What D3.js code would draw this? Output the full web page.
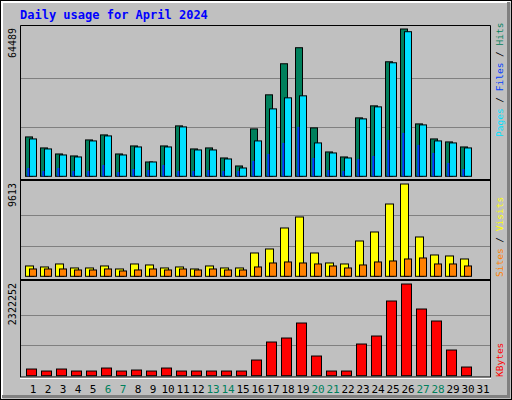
<!DOCTYPE html>
<html><head><meta charset="utf-8">
<script src="https://cdn.jsdelivr.net/npm/d3@7"></script>
<style>body{margin:0;background:#fff}</style></head>
<body><svg id="c" width="512" height="400"></svg>
<script>
const days = d3.range(1,32);
const weekend = [6,7,13,14,20,21,27,28];
const hits  = [17240,12420,9780,8910,15920,18120,9780,13290,6270,13290,22070,11980,12420,8030,4520,20750,35670,49270,56290,21190,10660,8470,25580,30840,50140,64489,22940,16360,15050,12850];
const files = [16360,11980,9340,8470,15490,17680,9340,12850,6270,12850,21630,11540,11540,7590,3640,15490,29520,34350,35230,14610,10220,8030,25140,30400,49700,63300,22500,15490,14610,12420];
const pages = [3640,2330,3640,2330,2330,4960,1890,3200,2760,4960,2330,2330,2760,2330,2330,6710,9780,14610,21630,8030,2760,2330,7590,8910,15920,18990,13730,10220,5830,3200];
const visits= [1076,972,1284,868,868,1076,763,1284,1180,868,972,763,1076,868,868,2429,2845,5032,6177,2429,1388,1284,3678,4615,7530,9613,4095,2221,2117,1804];
const sites = [763,763,763,659,659,763,555,659,763,659,763,659,763,659,659,972,1388,1492,1388,1284,1076,868,1180,1492,1596,1804,1909,1284,1284,1076];
const kbytes= [168900,118200,168900,118200,118200,194200,118200,143600,118200,194200,118200,118200,118200,118200,118200,396900,852900,954200,1334200,498200,118200,118200,802200,1004900,1891600,2322252,1688900,1384900,650200,219600];
const maxTop=64489, maxMid=9613, maxBot=2322252;

const svg=d3.select("#c");
const F="DejaVu Sans Mono, monospace";
svg.append("rect").attr("x",0).attr("y",0).attr("width",512).attr("height",400).attr("fill","#c0c0c0");
svg.append("path").attr("d","M1.5,398.5V1.5H510.5").attr("fill","none").attr("stroke","#fff").attr("stroke-width",3);
svg.append("path").attr("d","M2,396.5H508.5V2").attr("fill","none").attr("stroke","#808080").attr("stroke-width",3);
svg.append("rect").attr("x",0.5).attr("y",0.5).attr("width",511).attr("height",399).attr("fill","none").attr("stroke","#000");
svg.append("text").attr("x",20).attr("y",19).attr("font-family",F).attr("font-weight","bold").attr("font-size",12).attr("fill","#0000ff").text("Daily usage for April 2024");

const x=d3.scaleLinear().domain([1,32]).range([25,490]);
const panels=[{y0:25,y1:180,top:29,base:176.3,max:maxTop,label:"64489"},
              {y0:180,y1:280,top:184,base:276.3,max:maxMid,label:"9613"},
              {y0:280,y1:378,top:284,base:375.7,max:maxBot,label:"2322252"}];
panels.forEach(p=>{
  p.y=d3.scaleLinear().domain([0,p.max]).range([p.base,p.top]);
  const g=svg.append("g");
  [1/3,2/3].forEach(f=>g.append("line").attr("x1",21).attr("x2",490).attr("y1",Math.round(p.base-(p.base-p.top)*f)+0.5).attr("y2",Math.round(p.base-(p.base-p.top)*f)+0.5).attr("stroke","#808080"));
  svg.append("text").attr("transform",`translate(16,${p.y0+3}) rotate(-90)`).attr("text-anchor","end").attr("font-family",F).attr("font-size",10).attr("fill","#000").text(p.label);
});
function bars(data,p,dx,w,color){
  svg.append("g").selectAll("rect").data(data).join("rect")
   .attr("x",(d,i)=>x(i+1)+dx+0.5).attr("width",w)
   .attr("y",d=>p.y(d)).attr("height",d=>p.base-p.y(d))
   .attr("fill",color).attr("stroke","#000");
}
bars(hits,panels[0],0,7,"#00805c");
bars(files,panels[0],4,7,"#00e0ff");
svg.append("g").selectAll("rect").data(pages).join("rect")
   .attr("x",(d,i)=>x(i+1)+2.3).attr("width",2)
   .attr("y",d=>panels[0].y(d)).attr("height",d=>panels[0].base-panels[0].y(d)).attr("fill","#0040ff");
bars(visits,panels[1],0,8,"#ffff00");
bars(sites,panels[1],4,7,"#ff8000");
bars(kbytes,panels[2],1,10,"#ff0000");
panels.forEach(p=>{
  svg.append("path").attr("d",`M20.5,${p.y1}V${p.y0+0.5}H490.5V${p.y1}`).attr("fill","none").attr("stroke","#000");
});
svg.append("line").attr("x1",20).attr("x2",491).attr("y1",180).attr("y2",180).attr("stroke","#000").attr("stroke-width",2);
svg.append("line").attr("x1",20).attr("x2",491).attr("y1",280).attr("y2",280).attr("stroke","#000").attr("stroke-width",2);
svg.append("line").attr("x1",20).attr("x2",491).attr("y1",378).attr("y2",378).attr("stroke","#fff").attr("stroke-width",2);
svg.append("line").attr("x1",20).attr("x2",491).attr("y1",377).attr("y2",377).attr("stroke","#000").attr("stroke-width",1);
svg.append("g").selectAll("text").data(days).join("text")
  .attr("x",d=>x(d)+8).attr("y",393).attr("text-anchor","middle").attr("font-family",F).attr("font-size",11)
  .attr("fill",d=>weekend.includes(d)?"#00805c":"#000").text(d=>d);
function legend(yb,parts){
  const t=svg.append("text").attr("transform",`translate(503,${yb}) rotate(-90)`).attr("text-anchor","start").attr("font-family",F).attr("font-size",9.5);
  parts.forEach(([s,c])=>t.append("tspan").attr("fill",c).text(s));
}
legend(137,[["Pages","#00e0ff"],[" / ","#000"],["Files","#0040ff"],[" / ","#000"],["Hits","#00805c"]]);
legend(277,[["Sites","#ff8000"],[" / ","#000"],["Visits","#ffff00"]]);
legend(377,[["KBytes","#ff0000"]]);
</script></body></html>
